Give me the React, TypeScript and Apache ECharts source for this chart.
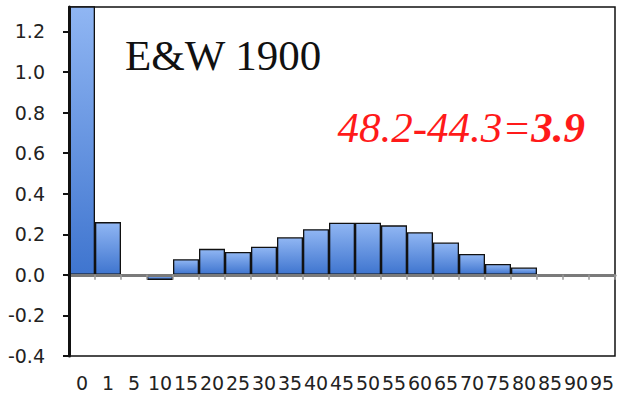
import React, { useEffect, useRef } from "react";
import * as echarts from "echarts";

const categories = ["0", "1", "5", "10", "15", "20", "25", "30", "35", "40", "45", "50", "55", "60", "65", "70", "75", "80", "85", "90", "95"];
const values = [2.0, 0.26, -0.005, -0.025, 0.077, 0.128, 0.113, 0.139, 0.185, 0.225, 0.257, 0.257, 0.244, 0.21, 0.159, 0.103, 0.054, 0.036, 0.003, 0.002, 0.001];
const titleText = "E&W 1900";
const diffText = "48.2-44.3=";
const resultText = "3.9";

export default function App() {
  const ref = useRef<HTMLDivElement>(null);
  useEffect(() => {
    if (!ref.current) return;
    const chart = echarts.init(ref.current, undefined, { renderer: "svg" });
    const labelFont = { fontFamily: "DejaVu Sans", fontSize: 19, color: "#222" };
    chart.setOption({
      animation: false,
      backgroundColor: "#fff",
      grid: {
        left: 69,
        right: 4,
        top: 7,
        bottom: 45,
        show: true,
        borderColor: "#111",
        borderWidth: 1.5,
        backgroundColor: "transparent",
      },
      xAxis: [
        {
          type: "category",
          data: categories,
          position: "bottom",
          axisLine: { show: false, onZero: false },
          axisTick: { show: false },
          axisLabel: { ...labelFont, interval: 0, margin: 17 },
        },
        {
          type: "category",
          data: categories,
          axisLine: { show: true, onZero: true, onZeroAxisIndex: 0, lineStyle: { color: "#7a7a7a", width: 3 } },
          axisTick: { show: true, length: 5, lineStyle: { color: "#9a9a9a", width: 1.5 } },
          axisLabel: { show: false },
          position: "bottom",
          z: 5,
        },
      ],
      yAxis: {
        type: "value",
        min: -0.4,
        max: 1.32,
        interval: 0.2,
        z: 10,
        splitLine: { show: false },
        axisLine: { show: true, onZero: false, lineStyle: { color: "#111", width: 3 } },
        axisTick: { show: true, length: 6, lineStyle: { color: "#111", width: 2 } },
        axisLabel: {
          ...labelFont,
          margin: 24,
          showMaxLabel: false,
          formatter: (v: number) => (v > 1.25 ? "" : v.toFixed(1)),
        },
      },
      series: [
        {
          type: "bar",
          data: values,
          xAxisIndex: 0,
          barCategoryGap: "0%",
          clip: true,
          itemStyle: {
            borderColor: "#111",
            borderWidth: 1.3,
            color: new echarts.graphic.LinearGradient(0, 0, 0, 1, [
              { offset: 0, color: "#90b6f3" },
              { offset: 1, color: "#3f75cf" },
            ]),
          },
        },
      ],
      graphic: [
        {
          type: "text",
          left: 125,
          top: 34,
          style: {
            text: titleText,
            font: "43px 'Liberation Serif'",
            fill: "#111",
          },
        },
        {
          type: "text",
          right: 34,
          top: 106,
          style: {
            text: `{a|${diffText}}{b|${resultText}}`,
            fill: "#ff1a1a",
            rich: {
              a: { fontFamily: "Liberation Serif", fontSize: 43, fontStyle: "italic", fill: "#ff1a1a" },
              b: { fontFamily: "Liberation Serif", fontSize: 43, fontStyle: "italic", fontWeight: "bold", fill: "#ff1a1a" },
            },
          },
        },
      ],
    });
    return () => chart.dispose();
  }, []);
  return <div ref={ref} style={{ width: 619, height: 401, position: "absolute", left: 0, top: 0 }} />;
}
